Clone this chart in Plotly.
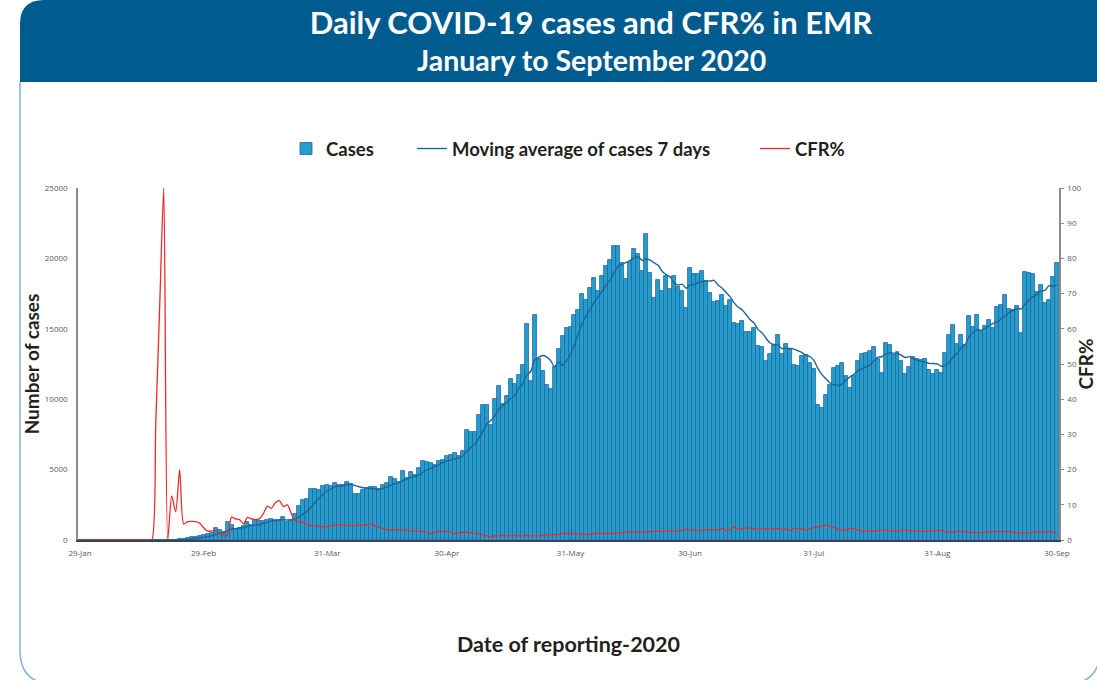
import pandas as pd
import plotly.graph_objects as go

# ---------------- data ----------------
start_date = "2020-01-29"

cases = [
    4, 0, 1, 0, 0, 0, 1, 0, 0, 0,
    2, 0, 0, 0, 0, 0, 0, 0, 1, 2,
    3, 5, 12, 20, 30, 60, 100, 130, 180, 220,
    280, 320, 420, 520, 820, 680, 560, 1265, 1100, 700,
    870, 960, 1265, 1100, 1455, 1340, 1340, 1400, 1525, 1410,
    1410, 1600, 1265, 1455, 1860, 2450, 2830, 2900, 3635, 3650,
    3540, 3870, 3940, 3850, 4060, 3880, 3900, 4100, 3950, 3300,
    3280, 3550, 3700, 3760, 3800, 3650, 3900, 4060, 4460, 4350,
    4150, 4930, 4400, 4800, 4600, 5120, 5640, 5550, 5500, 5350,
    5600, 5700, 6000, 6070, 6190, 5950, 6310, 7800, 7700, 7700,
    8860, 9570, 9620, 8200, 10030, 10970, 9690, 10260, 11440, 11110,
    11730, 12460, 15370, 11280, 15990, 12870, 11990, 11040, 10690, 12270,
    13580, 14470, 15060, 15110, 15990, 16340, 17480, 17080, 17880, 18620,
    17710, 18730, 19440, 19900, 20860, 20890, 19680, 18550, 19720, 20680,
    20320, 19130, 21740, 18970, 17200, 18500, 17670, 18780, 17860, 18730,
    17980, 17670, 16490, 19300, 18920, 18920, 19090, 18420, 17550, 16910,
    17000, 17400, 16650, 17080, 15420, 15340, 15580, 14750, 14750, 15060,
    13810, 13710, 12740, 13220, 13880, 14590, 13240, 13950, 13580, 12460,
    12390, 13100, 13170, 12580, 12150, 9620, 9340, 10280, 11040, 12220,
    12340, 12580, 11680, 10810, 11630, 12700, 13220, 13290, 13450, 13710,
    12870, 11870, 14000, 13830, 13170, 13330, 12700, 11820, 12300, 13010,
    12870, 12800, 12870, 12060, 11820, 12100, 11870, 13290, 14540, 15300,
    13950, 14540, 13830, 15890, 15140, 16010, 14800, 15180, 15660, 15060,
    16560, 16700, 17410, 16420, 16370, 16600, 14710, 19010, 18960, 18890,
    17590, 18120, 16840, 17030, 18690, 19680,
]

cfr = [
    0, 0, 0, 0, 0, 0, 0, 0, 0, 0,
    0, 0, 0, 0, 0, 0, 0, 0, 0, 33,
    67, 100, 0, 12.5, 8, 20, 4.5, 5.2, 5.3, 5.2,
    4.8, 3.5, 2.5, 2.6, 2.6, 2.0, 1.2, 1.5, 6.5, 6.0,
    5.8, 4.6, 6.4, 6.0, 5.8, 6.0, 7.5, 9.6, 9.0, 10.6,
    11.2, 9.5, 10.0, 7.5, 5.4, 5.1, 5.0, 4.2, 4.1, 4.1,
    3.9, 3.7, 3.8, 4.1, 4.2, 4.4, 4.2, 4.1, 4.1, 4.1,
    4.2, 4.2, 4.3, 4.6, 4.0, 3.6, 3.2, 2.9, 2.8, 2.9,
    2.8, 2.9, 2.8, 2.6, 2.5, 2.5, 2.4, 2.2, 1.8, 2.1,
    2.5, 2.4, 2.5, 2.3, 1.9, 2.0, 2.2, 2.2, 2.1, 1.9,
    1.7, 1.5, 1.2, 0.9, 1.2, 1.2, 1.3, 1.2, 1.2, 1.3,
    1.2, 1.2, 1.3, 1.2, 1.2, 1.2, 1.3, 1.4, 1.5, 1.5,
    1.6, 1.8, 1.9, 1.8, 1.9, 1.8, 1.7, 1.5, 1.7, 1.8,
    1.9, 1.8, 1.9, 1.8, 1.9, 1.9, 2.1, 2.2, 2.3, 2.2,
    2.2, 2.3, 2.2, 2.4, 2.5, 2.5, 2.4, 2.6, 2.5, 2.5,
    2.6, 2.8, 3.1, 2.8, 2.7, 2.8, 2.7, 2.9, 2.9, 2.8,
    2.9, 3.3, 2.6, 3.0, 3.7, 3.0, 3.2, 3.4, 3.4, 3.2,
    3.1, 3.1, 3.2, 3.1, 3.1, 3.2, 3.0, 3.1, 2.75, 3.3,
    3.3, 3.1, 2.8, 3.2, 3.5, 3.7, 4.0, 4.3, 3.9, 3.6,
    3.0, 2.8, 2.7, 3.2, 3.3, 2.8, 2.6, 2.5, 2.5, 2.5,
    2.7, 2.9, 2.7, 2.5, 2.5, 2.5, 2.7, 2.9, 2.6, 2.5,
    2.5, 2.4, 2.5, 2.5, 2.6, 2.75, 2.6, 2.4, 2.3, 2.2,
    2.5, 2.4, 2.3, 2.2, 2.1, 2.0, 2.1, 2.2, 2.4, 2.4,
    2.4, 2.4, 2.4, 2.4, 2.2, 2.0, 2.0, 1.9, 2.0, 2.2,
    2.4, 2.3, 2.2, 2.4, 2.3, 1.85,
]

tick_dates = ["2020-01-29", "2020-02-29", "2020-03-31", "2020-04-30", "2020-05-31",
              "2020-06-30", "2020-07-31", "2020-08-31", "2020-09-30"]
tick_labels = ["29-Jan", "29-Feb", "31-Mar", "30-Apr", "31-May",
               "30-Jun", "31-Jul", "31-Aug", "30-Sep"]

left_ticks = [0, 5000, 10000, 15000, 20000, 25000]
right_ticks = [0, 10, 20, 30, 40, 50, 60, 70, 80, 90, 100]

dates = pd.date_range(start_date, periods=len(cases), freq="D")
moving_avg = pd.Series(cases).rolling(7, min_periods=1).mean()

# ---------------- layout helpers (screen pixel -> paper) ----------------
W, H = 1097, 680
ML, MT = 78, 188          # plot area left/top on screen
PW, PH = 981, 352
MR = W - ML - PW
MB = H - MT - PH


def X(px):
    return (px - ML) / PW


def Y(py):
    return (MT + PH - py) / PH


FONT = "Lato, 'Open Sans', sans-serif"
TXT = "#231f20"
TICKFONT = dict(family="'Open Sans', sans-serif", size=8, color="#58595b")

fig = go.Figure()

fig.add_trace(go.Bar(
    x=dates, y=cases, name="Cases",
    marker=dict(color="#22a0cc", line=dict(color="#2b5fa3", width=0.8)),
    width=86400000, legend="legend",
    hovertemplate="%{x|%d-%b}: %{y}<extra></extra>",
))
fig.add_trace(go.Scatter(
    x=dates, y=moving_avg, name="Moving average of cases 7 days",
    mode="lines", line=dict(color="#1b6698", width=1.4, shape="spline", smoothing=0.6),
    legend="legend2",
))
fig.add_trace(go.Scatter(
    x=dates, y=cfr, name="CFR%", yaxis="y2",
    mode="lines", line=dict(color="#f02828", width=1.3, shape="spline", smoothing=0.7),
    legend="legend3",
))

legend_common = dict(
    orientation="h", yanchor="middle", y=Y(149), xanchor="left",
    font=dict(family=FONT, size=18.5, color=TXT, weight="bold"),
    bgcolor="rgba(0,0,0,0)", borderwidth=0,
)

fig.update_layout(
    width=W, height=H,
    margin=dict(l=ML, r=MR, t=MT, b=MB, autoexpand=False),
    paper_bgcolor="white", plot_bgcolor="white",
    bargap=0,
    showlegend=True,
    legend=dict(x=X(286), **legend_common),
    legend2=dict(x=X(412), **legend_common),
    legend3=dict(x=X(755), **legend_common),
    title=dict(
        text="Daily COVID-19 cases and CFR% in EMR",
        x=X(591), xanchor="center", xref="paper",
        y=1 - 23 / H, yanchor="middle", yref="container",
        font=dict(family=FONT, size=31, color="white", weight="bold"),
    ),
    xaxis=dict(
        type="date",
        range=["2020-01-28 12:00", "2020-09-30 12:00"],
        tickvals=tick_dates, ticktext=tick_labels,
        tickfont=TICKFONT,
        ticks="", ticklabelstandoff=5,
        showline=True, linecolor="#3c4258", linewidth=1.5,
        showgrid=False, zeroline=False,
        title=dict(text="Date of reporting-2020", standoff=80,
                   font=dict(family=FONT, size=21.5, color=TXT, weight="bold")),
    ),
    yaxis=dict(
        range=[0, 25000], tickvals=left_ticks,
        ticktext=[str(v) for v in left_ticks],
        tickfont=TICKFONT,
        ticks="", ticklabelstandoff=7,
        showline=True, linecolor="#8c8c8c", linewidth=1.5,
        showgrid=False, zeroline=False,
        title=dict(text="Number of cases", standoff=0,
                   font=dict(family=FONT, size=19, color=TXT, weight="bold")),
    ),
    yaxis2=dict(
        range=[0, 100], tickvals=right_ticks, overlaying="y", side="right",
        ticktext=[str(v) for v in right_ticks],
        tickfont=TICKFONT,
        ticks="outside", ticklen=3, tickcolor="#8c8c8c", ticklabelstandoff=2,
        showline=True, linecolor="#8c8c8c", linewidth=1.5,
        showgrid=False, zeroline=False,
        title=dict(text="CFR%", standoff=20,
                   font=dict(family=FONT, size=19, color=TXT, weight="bold")),
    ),
)

# subtitle
fig.add_annotation(
    text="January to September 2020", xref="paper", yref="paper",
    x=X(591), y=Y(60), xanchor="center", yanchor="middle", showarrow=False,
    font=dict(family=FONT, size=28.5, color="white", weight="bold"),
)

# header band with rounded top-left corner
band = (f"M {X(20)},{Y(82)} L {X(20)},{Y(24)} Q {X(20)},{Y(0)} {X(44)},{Y(0)} "
        f"L {X(1110)},{Y(0)} L {X(1110)},{Y(82)} Z")
fig.add_shape(type="path", path=band, xref="paper", yref="paper",
              fillcolor="#005b8f", line=dict(width=0), layer="below")

# light rounded frame (bottom edge lies just below the visible page)
frame = (f"M {X(20)},{Y(82)} L {X(20)},{Y(650)} Q {X(20)},{Y(684)} {X(54)},{Y(684)} "
         f"L {X(1066)},{Y(684)} Q {X(1100)},{Y(684)} {X(1100)},{Y(650)}")
fig.add_shape(type="path", path=frame, xref="paper", yref="paper",
              line=dict(color="#86b0d4", width=1.5), layer="below")

fig.write_html("out.html", config={"displayModeBar": False},
               post_script="document.body.style.margin='0px';")
